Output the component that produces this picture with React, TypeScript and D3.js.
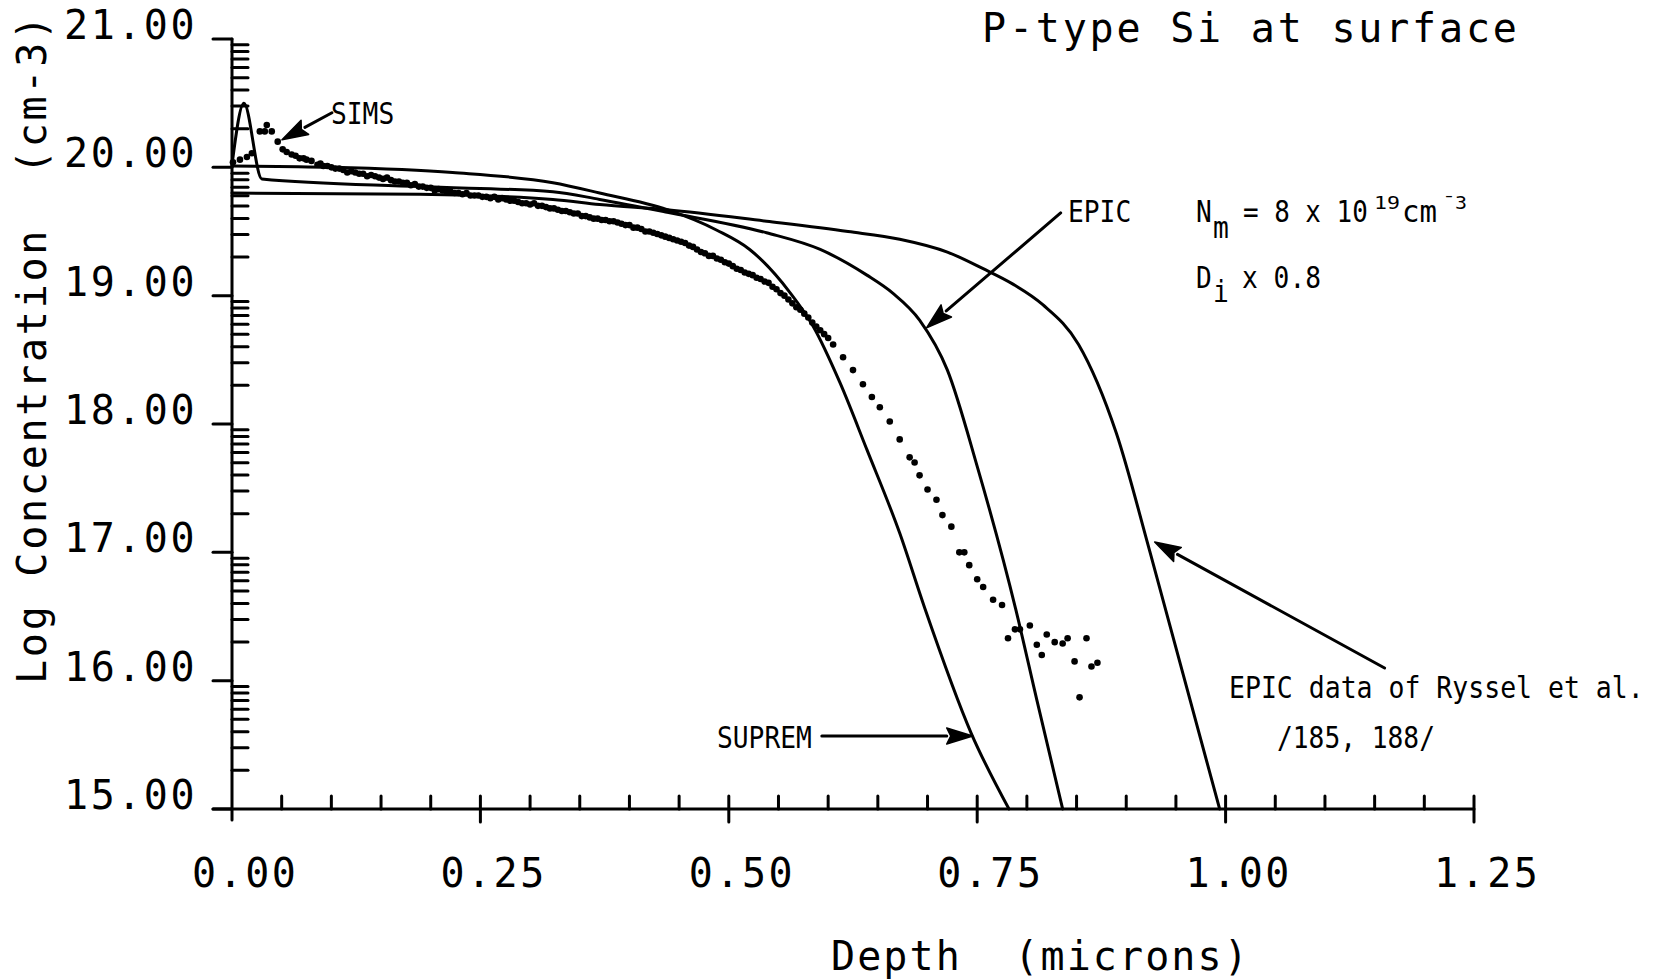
import React from 'react';
import * as d3 from 'd3';

// ---------- data ----------
const xTickValues = [0, 0.25, 0.5, 0.75, 1.0, 1.25];
const xTickLabels = ['0.00', '0.25', '0.50', '0.75', '1.00', '1.25'];
const xMinorTicks = [0.05, 0.1, 0.15, 0.2, 0.3, 0.35, 0.4, 0.45, 0.55, 0.6, 0.65, 0.7, 0.8, 0.85, 0.9, 0.95, 1.05, 1.1, 1.15, 1.2];
const yTickValues = [15, 16, 17, 18, 19, 20, 21];
const yTickLabels = ['15.00', '16.00', '17.00', '18.00', '19.00', '20.00', '21.00'];
const yMinorDecades = [15, 16, 17, 18, 19, 20];
const yMinorFactors = [2, 3, 4, 5, 6, 7, 8, 9];

const supremDepth = [0, 0.1, 0.222, 0.323, 0.37, 0.438, 0.488, 0.521, 0.561, 0.585, 0.612, 0.639, 0.672, 0.697, 0.744, 0.782];
const supremLog = [20.01, 20.0, 19.96, 19.88, 19.8, 19.67, 19.51, 19.36, 19.03, 18.76, 18.32, 17.8, 17.15, 16.57, 15.59, 15.0];

const epicDepth = [0, 0.012, 0.03, 0.189, 0.323, 0.37, 0.438, 0.538, 0.592, 0.639, 0.665, 0.692, 0.72, 0.75, 0.789, 0.81, 0.836];
const epicLog = [20.02, 20.5, 19.91, 19.85, 19.81, 19.75, 19.65, 19.49, 19.36, 19.16, 19.02, 18.81, 18.42, 17.67, 16.55, 15.85, 15.0];

const rysselDepth = [0, 0.189, 0.323, 0.37, 0.438, 0.538, 0.62, 0.672, 0.72, 0.756, 0.786, 0.816, 0.852, 0.89, 0.924, 0.994];
const rysselLog = [19.8, 19.79, 19.75, 19.71, 19.67, 19.58, 19.5, 19.44, 19.34, 19.21, 19.09, 18.93, 18.62, 17.93, 17.0, 15.0];

const simsData: [number, number][] = [
  [0.001, 20.04], [0.008, 20.06], [0.015, 20.08], [0.02, 20.11], [0.028, 20.28], [0.033, 20.28], [0.035, 20.33],
  [0.04, 20.28], [0.046, 20.2], [0.051, 20.14], [0.055, 20.12], [0.06, 20.1], [0.064, 20.09], [0.068, 20.07],
  [0.072, 20.07], [0.075, 20.06], [0.08, 20.05], [0.086, 20.02], [0.089, 20.03], [0.092, 20.01], [0.096, 20.01],
  [0.1, 20.0], [0.104, 19.99], [0.108, 19.99], [0.112, 19.98], [0.116, 19.96], [0.12, 19.97], [0.124, 19.96],
  [0.128, 19.95], [0.132, 19.95], [0.136, 19.93], [0.14, 19.94], [0.144, 19.93], [0.148, 19.92], [0.152, 19.91],
  [0.156, 19.92], [0.16, 19.9], [0.164, 19.89], [0.168, 19.89], [0.172, 19.88], [0.176, 19.88], [0.18, 19.86],
  [0.184, 19.87], [0.188, 19.85], [0.192, 19.85], [0.196, 19.84], [0.2, 19.84], [0.204, 19.82], [0.208, 19.83],
  [0.212, 19.82], [0.216, 19.81], [0.22, 19.81], [0.224, 19.8], [0.228, 19.8], [0.232, 19.79], [0.236, 19.8],
  [0.24, 19.78], [0.244, 19.78], [0.248, 19.78], [0.252, 19.77], [0.256, 19.77], [0.26, 19.76], [0.264, 19.77],
  [0.268, 19.75], [0.272, 19.76], [0.276, 19.75], [0.28, 19.74], [0.284, 19.74], [0.288, 19.73], [0.292, 19.72],
  [0.296, 19.72], [0.3, 19.71], [0.304, 19.72], [0.308, 19.7], [0.312, 19.7], [0.316, 19.69], [0.32, 19.68],
  [0.324, 19.68], [0.328, 19.67], [0.332, 19.66], [0.336, 19.66], [0.34, 19.65], [0.344, 19.64], [0.348, 19.64],
  [0.352, 19.62], [0.356, 19.62], [0.36, 19.61], [0.364, 19.6], [0.368, 19.6], [0.372, 19.59], [0.376, 19.59],
  [0.38, 19.58], [0.384, 19.58], [0.388, 19.57], [0.392, 19.56], [0.396, 19.55], [0.4, 19.55], [0.404, 19.53],
  [0.408, 19.53], [0.412, 19.52], [0.416, 19.5], [0.42, 19.5], [0.424, 19.49], [0.428, 19.48], [0.432, 19.47],
  [0.436, 19.46], [0.44, 19.45], [0.444, 19.44], [0.448, 19.43], [0.452, 19.42], [0.456, 19.41], [0.46, 19.39],
  [0.464, 19.38], [0.468, 19.36], [0.472, 19.34], [0.476, 19.33], [0.48, 19.31], [0.484, 19.31], [0.488, 19.29],
  [0.492, 19.28], [0.496, 19.26], [0.5, 19.25], [0.504, 19.23], [0.508, 19.21], [0.512, 19.2], [0.516, 19.18],
  [0.52, 19.17], [0.524, 19.16], [0.528, 19.14], [0.532, 19.13], [0.536, 19.11], [0.54, 19.1], [0.544, 19.07],
  [0.548, 19.05], [0.552, 19.02], [0.556, 19.0], [0.56, 18.97], [0.564, 18.94], [0.568, 18.91], [0.572, 18.89],
  [0.576, 18.86], [0.58, 18.83], [0.584, 18.79], [0.588, 18.76], [0.592, 18.73], [0.596, 18.7], [0.6, 18.67],
  [0.605, 18.62], [0.615, 18.52], [0.625, 18.42], [0.635, 18.31], [0.644, 18.21], [0.652, 18.13], [0.662, 18.02],
  [0.672, 17.88], [0.682, 17.74], [0.687, 17.7], [0.692, 17.6], [0.7, 17.49], [0.709, 17.41], [0.715, 17.29],
  [0.724, 17.2], [0.732, 17.0], [0.737, 17.0], [0.742, 16.9], [0.75, 16.79], [0.756, 16.73], [0.766, 16.63],
  [0.775, 16.59], [0.781, 16.33], [0.788, 16.4], [0.793, 16.4], [0.803, 16.43], [0.81, 16.28], [0.815, 16.2],
  [0.82, 16.36], [0.828, 16.3], [0.836, 16.29], [0.841, 16.33], [0.848, 16.15], [0.86, 16.33], [0.865, 16.11],
  [0.871, 16.14], [0.853, 15.87],
];

// ---------- layout ----------
const W = 1659;
const H = 979;
const PLOT_FONT = '"DejaVu Sans Mono", monospace';
const NOTE_FONT = '"DejaVu Sans Mono", monospace';
const MONO_ADVANCE = 0.602;

const x = d3.scaleLinear().domain([0, 1.25]).range([232, 1474]);
const y = d3.scaleLinear().domain([15, 21]).range([809, 39]);

const line = d3
  .line<[number, number]>()
  .x((d) => x(d[0]))
  .y((d) => y(d[1]))
  .curve(d3.curveMonotoneX);

const zip = (a: number[], b: number[]): [number, number][] => a.map((v, i) => [v, b[i]]);

function Arrow({ from, to }: { from: [number, number]; to: [number, number] }) {
  const x1 = x(from[0]);
  const y1 = y(from[1]);
  const x2 = x(to[0]);
  const y2 = y(to[1]);
  const ang = Math.atan2(y2 - y1, x2 - x1);
  const len = 26;
  const hw = 8;
  const bx = x2 - len * Math.cos(ang);
  const by = y2 - len * Math.sin(ang);
  const px = -Math.sin(ang) * hw;
  const py = Math.cos(ang) * hw;
  return (
    <g>
      <line x1={x1} y1={y1} x2={bx} y2={by} stroke="#000" strokeWidth={3} strokeLinecap="round" />
      <path d={`M${x2},${y2}L${bx + px},${by + py}L${bx + 4 * Math.cos(ang)},${by + 4 * Math.sin(ang)}L${bx - px},${by - py}Z`} fill="#000" stroke="#000" strokeWidth={1.5} strokeLinejoin="round" />
    </g>
  );
}

// narrow plotter-style annotation text: monospace glyphs squeezed horizontally
function Note({ x0, y0, text, size = 30, pitch = 15.8 }: { x0: number; y0: number; text: string; size?: number; pitch?: number }) {
  const sx = pitch / (MONO_ADVANCE * size);
  return (
    <text transform={`translate(${x0},${y0}) scale(${sx},1)`} fontFamily={NOTE_FONT} fontSize={size} fill="#000">
      {text}
    </text>
  );
}

export default function App() {
  React.useEffect(() => {
    document.body.style.margin = '0';
  }, []);

  const yMinor: number[] = [];
  yMinorDecades.forEach((dec) => yMinorFactors.forEach((k) => yMinor.push(dec + Math.log10(k))));

  const curves = [zip(supremDepth, supremLog), zip(epicDepth, epicLog), zip(rysselDepth, rysselLog)];

  return (
    <svg width={W} height={H} style={{ position: 'absolute', left: 0, top: 0, display: 'block', background: '#fff' }}>
      <rect x={0} y={0} width={W} height={H} fill="#fff" />
      {/* axes */}
      <g stroke="#000" strokeWidth={3} strokeLinecap="round">
        <line x1={x(0)} y1={y(21)} x2={x(0)} y2={y(15) + 11} />
        <line x1={x(0) - 19} y1={y(15)} x2={x(1.25)} y2={y(15)} />
        {yTickValues.map((v) => (
          <line key={'ym' + v} x1={x(0) - 19} y1={y(v)} x2={x(0)} y2={y(v)} />
        ))}
        {yMinor.map((v, i) => (
          <line key={'yn' + i} x1={x(0)} y1={y(v)} x2={x(0) + 16} y2={y(v)} />
        ))}
        {xTickValues.slice(1).map((v) => (
          <line key={'xm' + v} x1={x(v)} y1={y(15) - 13} x2={x(v)} y2={y(15) + 13} />
        ))}
        {xMinorTicks.map((v) => (
          <line key={'xn' + v} x1={x(v)} y1={y(15) - 13} x2={x(v)} y2={y(15)} />
        ))}
      </g>

      {/* tick labels */}
      <g fontFamily={PLOT_FONT} fontSize={40} fill="#000">
        {yTickValues.map((v, i) => (
          <text key={'yl' + v} x={197} y={y(v)} textAnchor="end" letterSpacing={2.5}>
            {yTickLabels[i]}
          </text>
        ))}
        {xTickValues.map((v, i) => (
          <text key={'xl' + v} x={x(v) - 40} y={887} letterSpacing={2.5}>
            {xTickLabels[i]}
          </text>
        ))}
        <text x={982} y={42} letterSpacing={2.8}>P-type Si at surface</text>
        <text x={831} y={970} letterSpacing={2.1}>{'Depth\u00A0\u00A0(microns)'}</text>
        <text transform="translate(46,684) rotate(-90)" letterSpacing={2.75}>{'Log Concentration\u00A0\u00A0(cm-3)'}</text>
      </g>

      {/* curves */}
      <g fill="none" stroke="#000" strokeWidth={3} strokeLinejoin="round" strokeLinecap="round">
        {curves.map((c, i) => (
          <path key={'c' + i} d={line(c) || ''} />
        ))}
      </g>

      {/* SIMS dots */}
      <g fill="#000">
        {simsData.map((p, i) => (
          <circle key={'s' + i} cx={x(p[0])} cy={y(p[1])} r={3.3} />
        ))}
      </g>

      {/* annotations */}
      <Arrow from={[0.1006, 20.425]} to={[0.0503, 20.215]} />
      <Arrow from={[0.834, 19.645]} to={[0.699, 18.749]} />
      <Arrow from={[1.16, 16.099]} to={[0.9286, 17.081]} />
      <Arrow from={[0.5936, 15.569]} to={[0.7455, 15.569]} />

      <Note x0={331} y0={124} text="SIMS" />
      <Note x0={1068} y0={222} text="EPIC" />
      <Note x0={717} y0={748} text="SUPREM" />
      <Note x0={1229} y0={698} text="EPIC data of Ryssel et al." pitch={15.95} />
      <Note x0={1277} y0={748} text="/185, 188/" />

      <Note x0={1196} y0={222} text="N" />
      <Note x0={1213} y0={238} text="m" />
      <Note x0={1243} y0={222} text="= 8 x 10" pitch={15.6} />
      <Note x0={1374} y0={209} text="19" size={18} pitch={13} />
      <Note x0={1402} y0={222} text="cm" pitch={17.5} />
      <Note x0={1443} y0={209} text={'\u00AF3'} size={18} pitch={12} />

      <Note x0={1196} y0={288} text="D" />
      <Note x0={1213} y0={302} text="i" />
      <Note x0={1242} y0={288} text="x 0.8" />
    </svg>
  );
}
